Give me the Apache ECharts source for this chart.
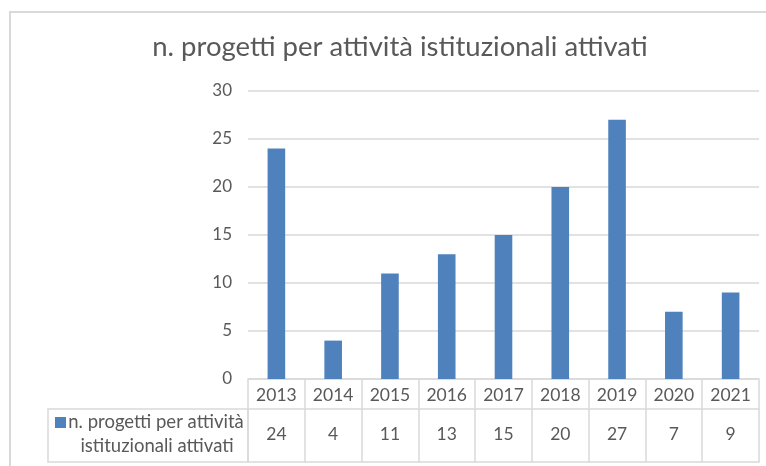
<!DOCTYPE html>
<html>
<head>
<meta charset="utf-8">
<script src="https://cdn.jsdelivr.net/npm/echarts@6/dist/echarts.min.js"></script>
<style>
  html, body { margin: 0; padding: 0; background: #fff; }
  #chart { width: 766px; height: 466px; }
</style>
</head>
<body>
<div id="chart"></div>
<script>
// Anni e numero di progetti attivati per attività istituzionali
const years = ['2013', '2014', '2015', '2016', '2017', '2018', '2019', '2020', '2021'];
const projects = [24, 4, 11, 13, 15, 20, 27, 7, 9];
const seriesName = 'n. progetti per attività istituzionali attivati';
const yTicks = { min: 0, max: 30, interval: 5 };

const FONT = 'Lato';
const TEXT = '#595959';
const LINE = '#d9d9d9';
const BAR = '#4f81bd';

const gridLeft = 248, gridRight = 7, gridTop = 91, gridBottom = 87;
const rowH = 30, tableH = 83;

const chart = echarts.init(document.getElementById('chart'));
chart.setOption({
  animation: false,
  backgroundColor: '#fff',
  title: {
    text: seriesName,
    left: 395,
    textAlign: 'center',
    top: 28,
    textStyle: { fontFamily: FONT, fontSize: 27.5, fontWeight: 'normal', color: TEXT }
  },
  grid: { left: gridLeft, right: gridRight, top: gridTop, bottom: gridBottom, containLabel: false },
  xAxis: [
    {
      type: 'category',
      data: years,
      axisLine: { show: true, lineStyle: { color: LINE, width: 1.5 } },
      axisTick: { show: true, interval: 0, length: tableH, lineStyle: { color: LINE, width: 1.5 } },
      axisLabel: { color: TEXT, fontFamily: FONT, fontSize: 17.5, margin: 7, interval: 0 }
    },
    {
      type: 'category',
      data: years,
      position: 'bottom',
      offset: rowH,
      axisLine: { show: true, lineStyle: { color: LINE, width: 1.5 } },
      axisTick: { show: false },
      axisLabel: {
        color: TEXT, fontFamily: FONT, fontSize: 17.5, margin: 16, interval: 0,
        formatter: (v, i) => String(projects[i])
      }
    },
    {
      type: 'category',
      data: years,
      position: 'bottom',
      offset: tableH,
      axisLine: { show: true, lineStyle: { color: LINE, width: 1.5 } },
      axisTick: { show: false },
      axisLabel: { show: false }
    }
  ],
  yAxis: {
    type: 'value',
    min: yTicks.min,
    max: yTicks.max,
    interval: yTicks.interval,
    axisLine: { show: false },
    axisTick: { show: false },
    axisLabel: { color: TEXT, fontFamily: FONT, fontSize: 17, margin: 16 },
    splitLine: { lineStyle: { color: LINE, width: 1.5 } }
  },
  series: [{
    name: seriesName,
    type: 'bar',
    data: projects,
    barWidth: '31%',
    itemStyle: { color: BAR }
  }],
  graphic: [
    // cornice del grafico
    {
      type: 'rect',
      shape: { x: 10, y: 12, width: 790, height: 480 },
      style: { fill: 'none', stroke: LINE, lineWidth: 2 },
      silent: true
    },
    // cella della legenda nella tabella dati
    {
      type: 'rect',
      shape: { x: 48, y: 409, width: gridLeft - 48, height: 53 },
      style: { fill: 'none', stroke: LINE, lineWidth: 1.5 },
      silent: true
    },
    {
      type: 'rect',
      shape: { x: 55, y: 417, width: 11, height: 11 },
      style: { fill: BAR },
      silent: true
    },
    {
      type: 'text',
      x: 156,
      y: 422,
      style: {
        text: 'n. progetti per attività',
        fill: TEXT, font: '18.5px ' + FONT, align: 'center', verticalAlign: 'middle'
      },
      silent: true
    },
    {
      type: 'text',
      x: 157,
      y: 446,
      style: {
        text: 'istituzionali attivati',
        fill: TEXT, font: '18.5px ' + FONT, align: 'center', verticalAlign: 'middle'
      },
      silent: true
    }
  ]
});
</script>
</body>
</html>
